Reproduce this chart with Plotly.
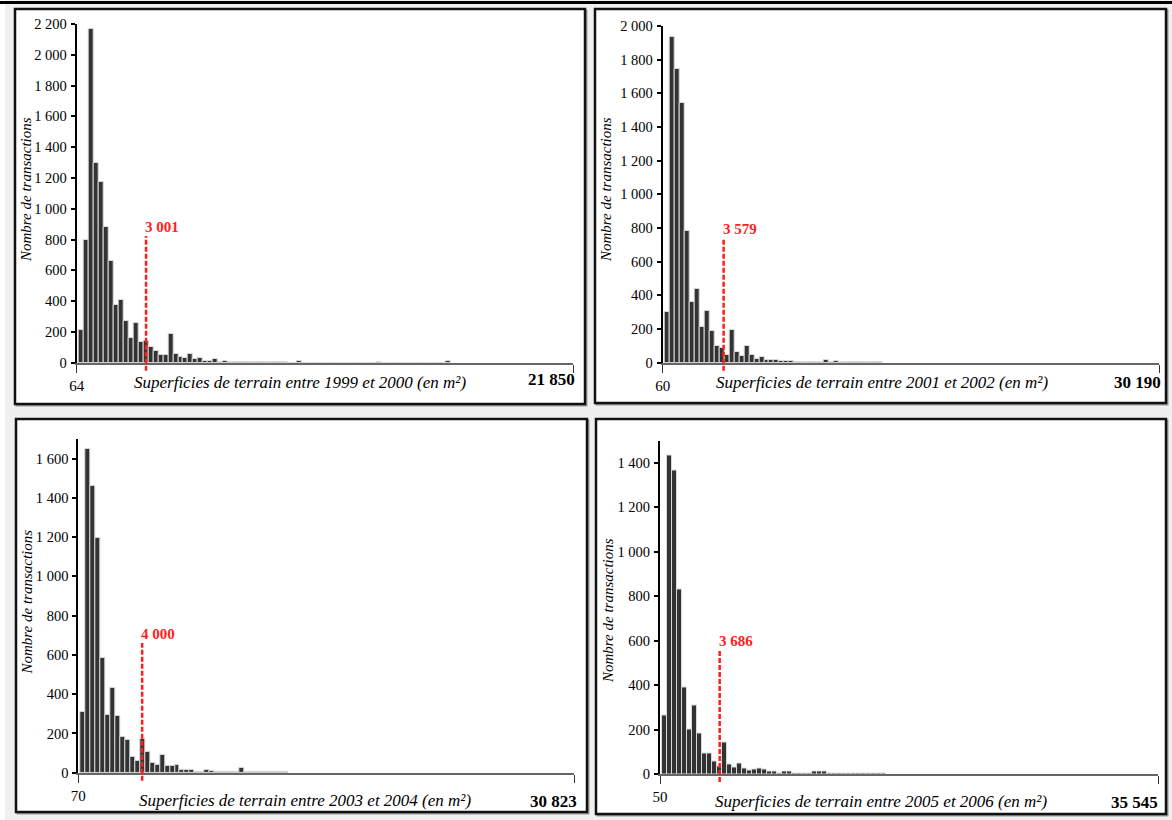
import plotly.graph_objects as go

W, H = 1172, 820

# ---------------- data (counts per bin) ----------------
periods = ["1999 et 2000", "2001 et 2002", "2003 et 2004", "2005 et 2006"]
x_min_labels = ["64", "60", "70", "50"]
x_max_labels = ["21 850", "30 190", "30 823", "35 545"]
threshold_labels = ["3 001", "3 579", "4 000", "3 686"]
# position of the dashed threshold line, in bin units along the axis
threshold_bin = [13.5, 11.8, 12.4, 11.5]
# height reached by the dashed line (in number of transactions)
threshold_top = [823, 741, 660, 558]
y_max = [2200, 2000, 1700, 1500]
y_tick_max = [2200, 2000, 1600, 1400]

counts_1999_2000 = [210, 800, 2165, 1300, 1175, 880, 660, 375, 410, 272,
                    158, 255, 134, 143, 102, 78, 48, 48, 184, 54,
                    37, 28, 54, 22, 28, 13, 13, 22, 6, 13,
                    5, 4, 4, 3, 3, 3, 3, 3, 2, 2,
                    2, 2, 1, 1, 13, 0, 0, 0, 0, 0,
                    0, 0, 0, 0, 0, 0, 0, 0, 0, 0,
                    4, 0, 0, 0, 0, 0, 0, 0, 0, 0,
                    0, 0, 0, 0, 12]
counts_2001_2002 = [300, 1937, 1745, 1545, 780, 358, 440, 212, 307, 190,
                    99, 85, 48, 196, 65, 42, 99, 48, 24, 34,
                    18, 18, 18, 8, 12, 12, 4, 4, 4, 4,
                    4, 3, 18, 4, 12, 3, 3, 3, 3, 3,
                    3, 3, 3, 2]
counts_2003_2004 = [311, 1647, 1463, 1197, 584, 294, 433, 289, 180, 168,
                    78, 59, 171, 104, 48, 41, 92, 34, 34, 41,
                    15, 15, 15, 3, 3, 15, 10, 3, 3, 3,
                    3, 3, 22, 3, 3, 3, 3, 3, 3, 3,
                    3, 2]
counts_2005_2006 = [265, 1432, 1367, 830, 390, 199, 306, 183, 93, 93,
                    55, 36, 142, 42, 30, 48, 25, 15, 21, 25,
                    19, 10, 10, 3, 10, 10, 2, 2, 2, 2,
                    10, 10, 10, 2, 2, 2, 2, 2, 2, 2,
                    2, 2, 2, 2, 2]
all_counts = [counts_1999_2000, counts_2001_2002, counts_2003_2004, counts_2005_2006]

# ---------------- layout geometry (pixels) ----------------
plot_boxes = [(76.7, 573.0, 24.0, 362.7),
              (662.7, 1159.0, 26.0, 362.7),
              (78.3, 574.3, 438.9, 772.7),
              (660.0, 1158.3, 440.5, 774.0)]
panel_frames = [(15, 585, 9, 404), (595, 1166, 9, 403),
                (16, 587, 419, 812), (596, 1166, 419, 814)]
xtitle_pos = [(300, 382), (882, 382), (305, 800), (881, 801)]
xmax_pos = [(577, 379), (1163, 382), (579, 801), (1160, 802)]
ytitle_pos = [(26, 190), (606, 190), (26.5, 602), (608, 610)]


def px(x):
    return x / W


def py(y):
    return 1 - y / H


SERIF = "Liberation Serif, Times New Roman, serif"
RED = "#ff1e1e"
x_range = [-0.5, 99.7]

fig = go.Figure()
shapes = []
annotations = []

shapes.append(dict(type="rect", xref="paper", yref="paper", x0=0, x1=px(5), y0=0, y1=1,
                   fillcolor="white", line=dict(width=0), layer="below"))
shapes.append(dict(type="line", xref="paper", yref="paper", x0=0, x1=1, y0=py(2.5), y1=py(2.5),
                   line=dict(color="black", width=3), layer="below"))
for (x0, x1, y0, y1) in panel_frames:
    shapes.append(dict(type="rect", xref="paper", yref="paper",
                       x0=px(x0 + 1.5), x1=px(x1 + 1.5), y0=py(y1 + 1.5), y1=py(y0 + 1.5),
                       fillcolor="rgba(0,0,0,0)", line=dict(color="#9a9a9a", width=2), layer="below"))
    shapes.append(dict(type="rect", xref="paper", yref="paper",
                       x0=px(x0), x1=px(x1), y0=py(y1), y1=py(y0),
                       fillcolor="white", line=dict(color="#111111", width=2.5), layer="below"))

layout_axes = {}
for i in range(4):
    k = "" if i == 0 else str(i + 1)
    xa, ya = "x" + k, "y" + k
    counts = all_counts[i]
    bins = list(range(len(counts)))
    fig.add_trace(go.Bar(
        x=[b + 0.5 for b in bins], y=counts, width=1.0,
        marker=dict(color="#333333", line=dict(color="#d9d9d9", width=1)),
        xaxis=xa, yaxis=ya, showlegend=False, hoverinfo="skip"))

    xl, xr, yt, yb = plot_boxes[i]
    layout_axes["xaxis" + k] = dict(
        domain=[px(xl), px(xr)], anchor=ya, range=x_range, automargin=False,
        showgrid=False, zeroline=False, showline=True, linecolor="#666666", linewidth=2,
        tickmode="array", tickvals=[x_range[0], x_range[1]], ticktext=[x_min_labels[i], ""],
        ticks="outside", ticklen=8, tickwidth=1, tickcolor="#333333",
        tickfont=dict(family=SERIF, size=15, color="black"), fixedrange=True)
    layout_axes["yaxis" + k] = dict(
        domain=[py(yb), py(yt)], anchor=xa, range=[0, y_max[i]], automargin=False,
        showgrid=False, zeroline=False, showline=True, linecolor="black", linewidth=2,
        tickmode="array", tickvals=list(range(0, y_tick_max[i] + 1, 200)),
        ticks="outside", ticklen=4, tickwidth=2,
        tickcolor="black", separatethousands=True, ticklabelstandoff=1,
        tickfont=dict(family=SERIF, size=14.5, color="black"), fixedrange=True)

    axis_len = yb - yt
    shapes.append(dict(type="line", xref=xa, yref=ya + " domain",
                       x0=threshold_bin[i], x1=threshold_bin[i],
                       y0=-8 / axis_len, y1=threshold_top[i] / y_max[i],
                       line=dict(color=RED, width=2.5, dash="5px,2px"), layer="above"))
    annotations.append(dict(xref=xa, yref=ya, x=threshold_bin[i], y=threshold_top[i],
                            xanchor="left", yanchor="bottom", xshift=-3, yshift=-1,
                            text="<b>" + threshold_labels[i] + "</b>", showarrow=False,
                            font=dict(family=SERIF, size=15, color=RED)))
    tx, ty = xtitle_pos[i]
    annotations.append(dict(xref="paper", yref="paper", x=px(tx), y=py(ty),
                            xanchor="center", yanchor="middle", showarrow=False,
                            text="<i>Superficies de terrain entre " + periods[i] + " (en m²)</i>",
                            font=dict(family=SERIF, size=17, color="black")))
    mx, my = xmax_pos[i]
    annotations.append(dict(xref="paper", yref="paper", x=px(mx), y=py(my),
                            xanchor="right", yanchor="middle", showarrow=False,
                            text="<b>" + x_max_labels[i] + "</b>",
                            font=dict(family=SERIF, size=17, color="black")))
    yx, yy = ytitle_pos[i]
    annotations.append(dict(xref="paper", yref="paper", x=px(yx), y=py(yy),
                            xanchor="center", yanchor="middle", showarrow=False, textangle=-90,
                            text="<i>Nombre de transactions</i>",
                            font=dict(family=SERIF, size=15, color="black")))

fig.update_layout(
    width=W, height=H, margin=dict(l=0, r=0, t=0, b=0, pad=0, autoexpand=False),
    paper_bgcolor="#f0f0f0", plot_bgcolor="rgba(0,0,0,0)",
    bargap=0, separators=". ", showlegend=False,
    shapes=shapes, annotations=annotations, **layout_axes)

pin_page = (
    "document.documentElement.style.margin='0';"
    "document.documentElement.style.padding='0';"
    "document.documentElement.style.overflow='hidden';"
    "document.body.style.margin='0';"
    "document.body.style.padding='0';"
    "document.body.style.overflow='hidden';"
    "var gd=document.getElementsByClassName('plotly-graph-div')[0];"
    "gd.style.position='fixed';gd.style.left='0px';gd.style.top='0px';"
)
fig.write_html("out.html", config={"displayModeBar": False}, post_script=pin_page)
